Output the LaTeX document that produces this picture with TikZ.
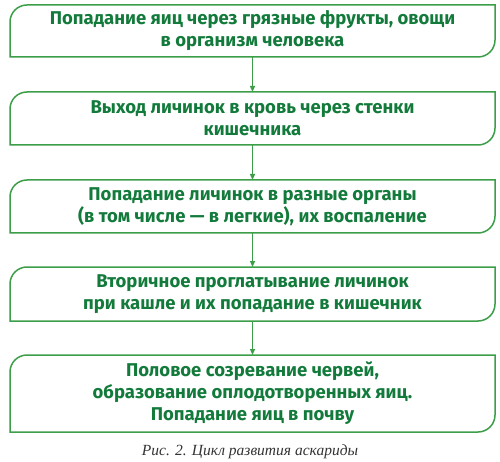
\documentclass[tikz,border=0pt]{standalone}
\usepackage{fontspec}
\setmainfont{Fira Sans}
\newfontfamily\capfont{Liberation Serif}
\usetikzlibrary{arrows.meta}
\definecolor{txtgreen}{RGB}{18,122,58}
\definecolor{linegreen}{RGB}{60,158,72}
\newcommand\greenframe[1]{\draw[boxframe] (#1.south west) -- ([yshift=-17pt]#1.north west) arc[start angle=180,end angle=90,radius=17pt] -- (#1.north east) -- ([yshift=17pt]#1.south east) arc[start angle=0,end angle=-90,radius=17pt] -- cycle;}
\begin{document}
\begin{tikzpicture}[x=1pt,y=1pt,
  stepbox/.style={minimum width=485pt, inner sep=0pt, outer sep=0pt, align=center,
    text=txtgreen, font=\bfseries\fontsize{18.5}{22}\selectfont},
  boxframe/.style={draw=linegreen, line width=1.5pt},
  arr/.style={draw=linegreen, line width=1.2pt, -{Triangle[width=5pt,length=6pt]}},
  captext/.style={font=\capfont\itshape\fontsize{15.5}{17}\selectfont, text=black!80, inner sep=0pt}]
\useasboundingbox (0,0) rectangle (500,-462);
\node[stepbox, minimum height=52pt] (b1) at (252.5,-31) {Попадание яиц через грязные фрукты, овощи\\в организм человека};
\node[stepbox, minimum height=53pt] (b2) at (252.5,-118.5) {Выход личинок в кровь через стенки\\кишечника};
\node[stepbox, minimum height=53pt] (b3) at (252.5,-206.5) {Попадание личинок в разные органы\\(в том числе — в легкие), их воспаление};
\node[stepbox, minimum height=54pt] (b4) at (252.5,-294) {Вторичное проглатывание личинок\\при кашле и их попадание в кишечник};
\node[stepbox, minimum height=77pt] (b5) at (252.5,-393.5) {Половое созревание червей,\\образование оплодотворенных яиц.\\Попадание яиц в почву};
\greenframe{b1}
\greenframe{b2}
\greenframe{b3}
\greenframe{b4}
\greenframe{b5}
\draw[arr] (b1.south) -- (b2.north);
\draw[arr] (b2.south) -- (b3.north);
\draw[arr] (b3.south) -- (b4.north);
\draw[arr] (b4.south) -- (b5.north);
\node[captext] (cap) at (250,-452) {Рис. 2. Цикл развития аскариды};
\end{tikzpicture}
\end{document}
